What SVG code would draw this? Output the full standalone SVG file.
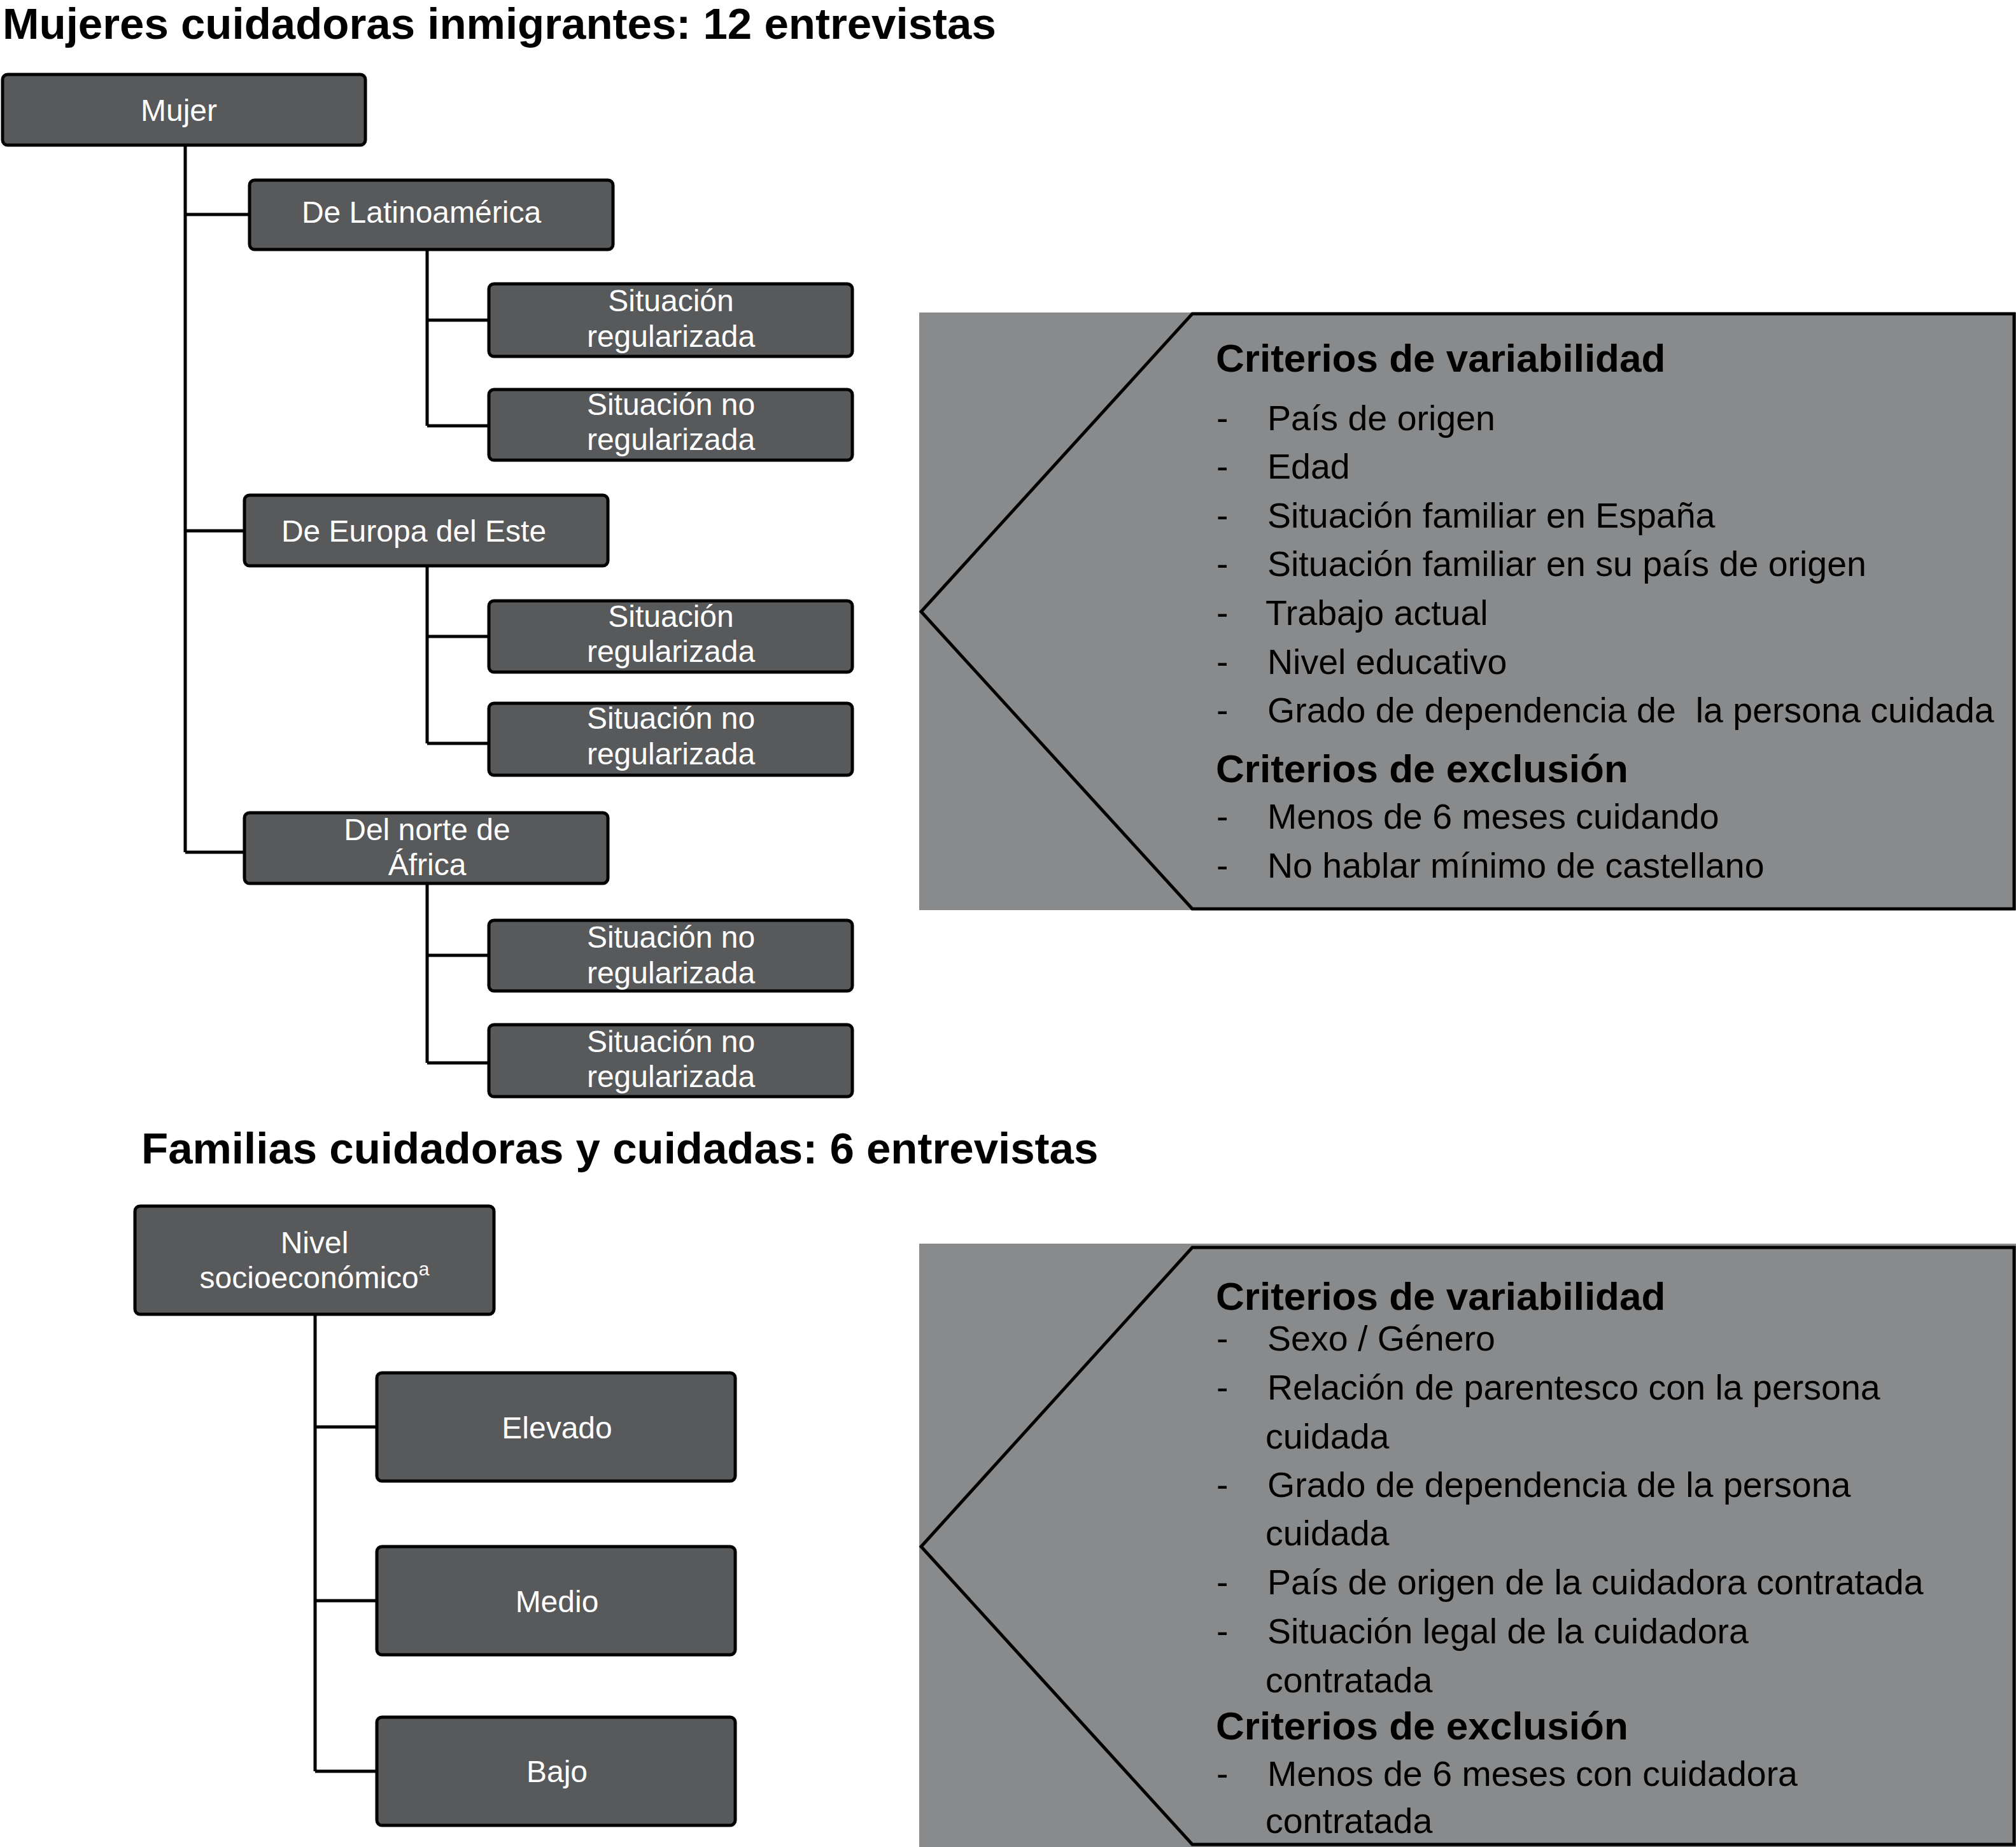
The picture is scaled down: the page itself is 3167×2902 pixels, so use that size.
<svg xmlns="http://www.w3.org/2000/svg" width="3167" height="2902" viewBox="0 0 3167 2902">
<style>
.title{font-family:"Liberation Sans",Arial,sans-serif;font-weight:bold;font-size:69px;fill:#000}
.box{fill:#58595b;stroke:#000;stroke-width:5}
.nt{font-family:"Liberation Sans",Arial,sans-serif;font-size:48px;fill:#fff;text-anchor:middle}
.conn{fill:none;stroke:#000;stroke-width:5}
.pfill{fill:#898a8c}
.pline{fill:none;stroke:#000;stroke-width:5;stroke-linejoin:miter}
.h{font-family:"Liberation Sans",Arial,sans-serif;font-weight:bold;font-size:62px;fill:#000}
.it{font-family:"Liberation Sans",Arial,sans-serif;font-size:55.5px;fill:#000}
</style>
<rect width="3167" height="2902" fill="#fff"/>
<text class="title" x="4" y="61">Mujeres cuidadoras inmigrantes: 12 entrevistas</text>
<text class="title" x="222" y="1828">Familias cuidadoras y cuidadas: 6 entrevistas</text>

<g id="connectors">
<path class="conn" d="M291,228 V1339 M291,337 H392 M291,834 H384 M291,1339 H384"/>
<path class="conn" d="M671,392 V669 M671,503 H768 M671,669 H768"/>
<path class="conn" d="M671,889 V1168 M671,1000 H768 M671,1168 H768"/>
<path class="conn" d="M671,1388 V1670 M671,1501 H768 M671,1670 H768"/>
<path class="conn" d="M495,2066 V2783 M495,2242 H592 M495,2515 H592 M495,2783 H592"/>
</g>

<g id="n-mujer"><rect class="box" x="4" y="117" width="570" height="111" rx="8"/><text class="nt" x="281" y="190">Mujer</text></g>
<g id="n-latino"><rect class="box" x="392" y="283" width="571" height="109" rx="8"/><text class="nt" x="662" y="350">De Latinoamérica</text></g>
<g id="n-lat-reg"><rect class="box" x="768" y="446" width="571" height="114" rx="8"/><text class="nt" x="1054" y="489">Situación</text><text class="nt" x="1054" y="545">regularizada</text></g>
<g id="n-lat-noreg"><rect class="box" x="768" y="612" width="571" height="111" rx="8"/><text class="nt" x="1054" y="652">Situación no</text><text class="nt" x="1054" y="707">regularizada</text></g>
<g id="n-europa"><rect class="box" x="384" y="778" width="571" height="111" rx="8"/><text class="nt" x="650" y="851">De Europa del Este</text></g>
<g id="n-eu-reg"><rect class="box" x="768" y="944" width="571" height="112" rx="8"/><text class="nt" x="1054" y="985">Situación</text><text class="nt" x="1054" y="1040">regularizada</text></g>
<g id="n-eu-noreg"><rect class="box" x="768" y="1105" width="571" height="113" rx="8"/><text class="nt" x="1054" y="1145">Situación no</text><text class="nt" x="1054" y="1201">regularizada</text></g>
<g id="n-norte"><rect class="box" x="384" y="1277" width="571" height="111" rx="8"/><text class="nt" x="671" y="1320">Del norte de</text><text class="nt" x="671" y="1375">África</text></g>
<g id="n-af-noreg1"><rect class="box" x="768" y="1446" width="571" height="111" rx="8"/><text class="nt" x="1054" y="1489">Situación no</text><text class="nt" x="1054" y="1545">regularizada</text></g>
<g id="n-af-noreg2"><rect class="box" x="768" y="1610" width="571" height="113" rx="8"/><text class="nt" x="1054" y="1653">Situación no</text><text class="nt" x="1054" y="1708">regularizada</text></g>

<g id="n-nivel"><rect class="box" x="212" y="1895" width="564" height="170" rx="8"/><text class="nt" x="494" y="1969">Nivel</text><text class="nt" x="494" y="2024">socioeconómico<tspan font-size="30" dy="-20">a</tspan></text></g>
<g id="n-elevado"><rect class="box" x="592" y="2157" width="563" height="170" rx="8"/><text class="nt" x="875" y="2260">Elevado</text></g>
<g id="n-medio"><rect class="box" x="592" y="2430" width="563" height="170" rx="8"/><text class="nt" x="875" y="2533">Medio</text></g>
<g id="n-bajo"><rect class="box" x="592" y="2698" width="563" height="170" rx="8"/><text class="nt" x="875" y="2800">Bajo</text></g>

<g id="panel1">
<rect class="pfill" x="1444" y="491" width="1723" height="939"/>
<path class="pline" d="M1873,493 H3164 V1428 H1873 L1447,961 Z"/>
<text class="h" x="1910" y="584">Criterios de variabilidad</text>
<text class="it" x="1911" y="676">-</text><text class="it" x="1991" y="676">País de origen</text>
<text class="it" x="1911" y="752">-</text><text class="it" x="1991" y="752">Edad</text>
<text class="it" x="1911" y="829">-</text><text class="it" x="1991" y="829">Situación familiar en España</text>
<text class="it" x="1911" y="905">-</text><text class="it" x="1991" y="905">Situación familiar en su país de origen</text>
<text class="it" x="1911" y="982">-</text><text class="it" x="1988" y="982">Trabajo actual</text>
<text class="it" x="1911" y="1059">-</text><text class="it" x="1991" y="1059">Nivel educativo</text>
<text class="it" x="1911" y="1135">-</text><text class="it" x="1991" y="1135" xml:space="preserve">Grado de dependencia de  la persona cuidada</text>
<text class="h" x="1910" y="1229">Criterios de exclusión</text>
<text class="it" x="1911" y="1302">-</text><text class="it" x="1991" y="1302">Menos de 6 meses cuidando</text>
<text class="it" x="1911" y="1379">-</text><text class="it" x="1991" y="1379">No hablar mínimo de castellano</text>
</g>

<g id="panel2">
<rect class="pfill" x="1444" y="1954" width="1723" height="948"/>
<path class="pline" d="M1873,1960 H3164 V2898 H1873 L1447,2430 Z"/>
<text class="h" x="1910" y="2058">Criterios de variabilidad</text>
<text class="it" x="1911" y="2122">-</text><text class="it" x="1991" y="2122">Sexo / Género</text>
<text class="it" x="1911" y="2199">-</text><text class="it" x="1991" y="2199">Relación de parentesco con la persona</text>
<text class="it" x="1988" y="2276">cuidada</text>
<text class="it" x="1911" y="2352">-</text><text class="it" x="1991" y="2352">Grado de dependencia de la persona</text>
<text class="it" x="1988" y="2428">cuidada</text>
<text class="it" x="1911" y="2505">-</text><text class="it" x="1991" y="2505">País de origen de la cuidadora contratada</text>
<text class="it" x="1911" y="2582">-</text><text class="it" x="1991" y="2582">Situación legal de la cuidadora</text>
<text class="it" x="1988" y="2659">contratada</text>
<text class="h" x="1910" y="2733">Criterios de exclusión</text>
<text class="it" x="1911" y="2806">-</text><text class="it" x="1991" y="2806">Menos de 6 meses con cuidadora</text>
<text class="it" x="1988" y="2880">contratada</text>
</g>
</svg>
